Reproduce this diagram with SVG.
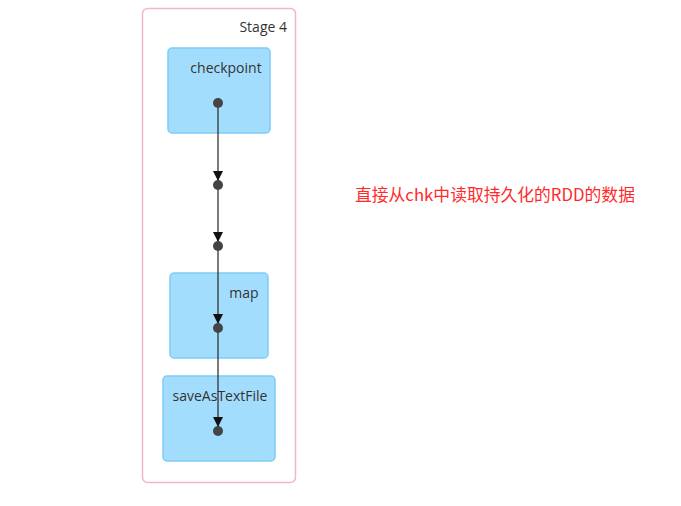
<svg xmlns="http://www.w3.org/2000/svg" width="681" height="506" viewBox="0 0 681 506">
<defs>
<style>
.node rect{fill:#A3DDFE;stroke:#7FCBF5;stroke-width:1.5}
.lbl{font-family:"Open Sans","Liberation Sans",sans-serif;font-size:14px;fill:#333}
.dot{fill:#444}
.edge{stroke:#333;stroke-width:1.3;fill:none;marker-end:url(#ah)}
</style>
<marker id="ah" viewBox="0 0 10 10" refX="10" refY="5" markerWidth="10" markerHeight="10" markerUnits="userSpaceOnUse" orient="auto">
<path d="M0,0L10,5L0,10z" fill="#111"/>
</marker>
</defs>
<rect width="681" height="506" fill="#fff"/>
<g id="stage4">
<rect x="142.5" y="8.5" width="153" height="474" rx="5" fill="#fff" stroke="#F5B5C5" stroke-width="1.5"/>
<text x="287" y="32" text-anchor="end" class="lbl">Stage 4</text>
</g>
<g id="checkpoint" class="node">
<rect x="168" y="48" width="102" height="85" rx="4"/>
<text x="226" y="73" text-anchor="middle" class="lbl">checkpoint</text>
</g>
<g id="map" class="node">
<rect x="170" y="273" width="98" height="85" rx="4"/>
<text x="244" y="298" text-anchor="middle" class="lbl">map</text>
</g>
<g id="saveAsTextFile" class="node">
<rect x="163" y="376" width="112" height="85" rx="4"/>
<text x="220" y="401" text-anchor="middle" class="lbl">saveAsTextFile</text>
</g>
<g id="connectors">
<line class="edge" x1="218" y1="103" x2="218" y2="181"/>
<line class="edge" x1="218" y1="185" x2="218" y2="242"/>
<line class="edge" x1="218" y1="246" x2="218" y2="324"/>
<line class="edge" x1="218" y1="328" x2="218" y2="427"/>
</g>
<g id="dots">
<circle class="dot" cx="218" cy="103" r="5"/>
<circle class="dot" cx="218" cy="185" r="5"/>
<circle class="dot" cx="218" cy="246" r="5"/>
<circle class="dot" cx="218" cy="328" r="5"/>
<circle class="dot" cx="218" cy="431" r="5"/>
</g>
<text x="355" y="201" font-family="'Microsoft YaHei','Noto Sans CJK SC',sans-serif" font-size="16.8" fill="#FF2A2A">直接从chk中读取持久化的RDD的数据</text>
</svg>
